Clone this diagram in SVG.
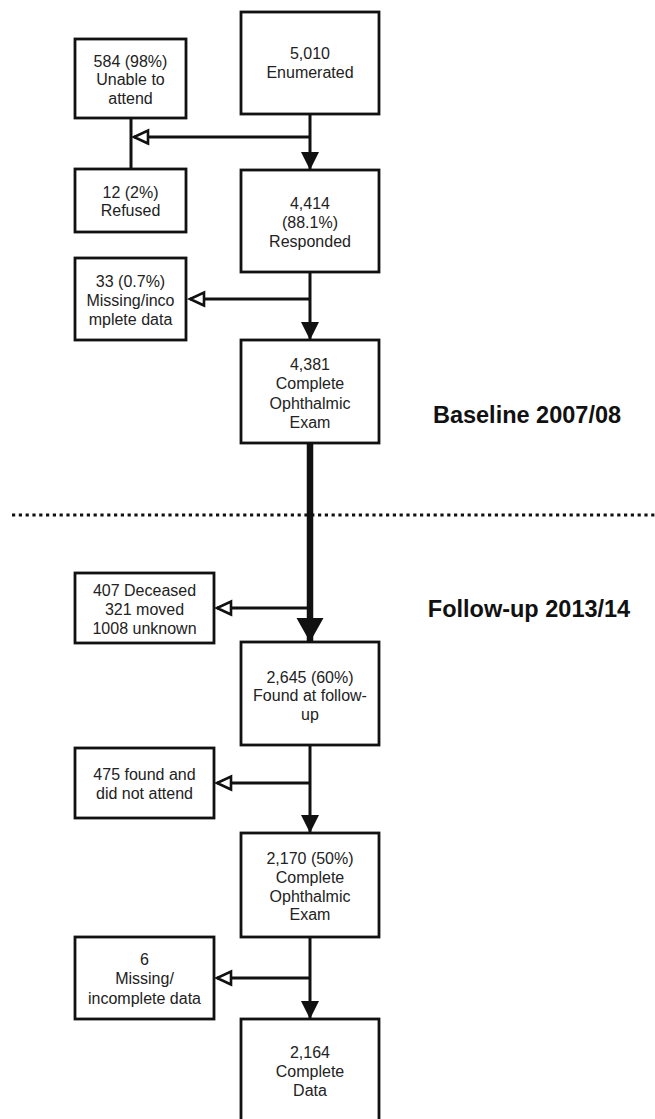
<svg xmlns="http://www.w3.org/2000/svg" width="655" height="1119" viewBox="0 0 655 1119">
<style>
.box{fill:#fff;stroke:#111;stroke-width:2.8}
.t{font-family:"Liberation Sans",Arial,Helvetica,sans-serif;font-size:16px;fill:#222;text-anchor:middle}
.lbl{font-family:"Liberation Sans",Arial,Helvetica,sans-serif;font-size:23.5px;font-weight:bold;fill:#111;text-anchor:middle}
.ln{fill:none;stroke:#111;stroke-width:3}
.thick{fill:none;stroke:#111;stroke-width:6.5}
</style>
<defs>
<marker id="fill" markerUnits="userSpaceOnUse" markerWidth="20" markerHeight="20" refX="18" refY="9" orient="auto" overflow="visible">
<path d="M0,0 L18,9 L0,18 z" fill="#111"/>
</marker>
<marker id="big" markerUnits="userSpaceOnUse" markerWidth="26" markerHeight="28" refX="24" refY="13.5" orient="auto" overflow="visible">
<path d="M0,0 L24,13.5 L0,27 z" fill="#111"/>
</marker>
<marker id="hollow" markerUnits="userSpaceOnUse" markerWidth="18" markerHeight="16" refX="14" refY="6.5" orient="auto" overflow="visible">
<path d="M0,0 L14,6.5 L0,13 z" fill="#fff" stroke="#111" stroke-width="2.6"/>
</marker>
</defs>
<rect width="655" height="1119" fill="#fff"/>

<g id="connectors">
<line class="ln" x1="131" y1="118" x2="131" y2="169"/>
<line class="ln" x1="310" y1="114" x2="310" y2="170" marker-end="url(#fill)"/>
<line class="ln" x1="310" y1="137" x2="134" y2="137" marker-end="url(#hollow)"/>
<line class="ln" x1="310" y1="272" x2="310" y2="340" marker-end="url(#fill)"/>
<line class="ln" x1="310" y1="299" x2="190" y2="299" marker-end="url(#hollow)"/>
<line class="thick" x1="310" y1="443" x2="310" y2="642" marker-end="url(#big)"/>
<line class="ln" x1="310" y1="608" x2="217" y2="608" marker-end="url(#hollow)"/>
<line class="ln" x1="310" y1="745" x2="310" y2="833" marker-end="url(#fill)"/>
<line class="ln" x1="310" y1="783" x2="217" y2="783" marker-end="url(#hollow)"/>
<line class="ln" x1="310" y1="937" x2="310" y2="1019" marker-end="url(#fill)"/>
<line class="ln" x1="310" y1="978" x2="217" y2="978" marker-end="url(#hollow)"/>
</g>

<g id="divider">
<line x1="12" y1="515" x2="655" y2="515" stroke="#111" stroke-width="3.2" stroke-dasharray="3.2 3.6"/>
</g>

<g id="n-enumerated">
<rect class="box" x="241" y="12" width="138" height="102"/>
<text class="t" x="310" y="59">5,010</text>
<text class="t" x="310" y="78">Enumerated</text>
</g>
<g id="n-unable">
<rect class="box" x="75" y="39" width="111" height="79"/>
<text class="t" x="130.5" y="67">584 (98%)</text>
<text class="t" x="130.5" y="85">Unable to</text>
<text class="t" x="130.5" y="104">attend</text>
</g>
<g id="n-refused">
<rect class="box" x="75" y="169" width="111" height="63"/>
<text class="t" x="130.5" y="198">12 (2%)</text>
<text class="t" x="130.5" y="216">Refused</text>
</g>
<g id="n-responded">
<rect class="box" x="241" y="170" width="138" height="102"/>
<text class="t" x="310" y="209">4,414</text>
<text class="t" x="310" y="228">(88.1%)</text>
<text class="t" x="310" y="247">Responded</text>
</g>
<g id="n-missing1">
<rect class="box" x="75" y="258" width="111" height="82"/>
<text class="t" x="130.5" y="287">33 (0.7%)</text>
<text class="t" x="130.5" y="306">Missing/inco</text>
<text class="t" x="130.5" y="325">mplete data</text>
</g>
<g id="n-exam1">
<rect class="box" x="241" y="340" width="138" height="103"/>
<text class="t" x="310" y="370">4,381</text>
<text class="t" x="310" y="389">Complete</text>
<text class="t" x="310" y="409">Ophthalmic</text>
<text class="t" x="310" y="428">Exam</text>
</g>
<g id="label-baseline">
<text class="lbl" x="527" y="423">Baseline 2007/08</text>
</g>
<g id="label-followup">
<text class="lbl" x="529" y="617">Follow-up 2013/14</text>
</g>
<g id="n-lost">
<rect class="box" x="75" y="573" width="139" height="70"/>
<text class="t" x="144.5" y="596">407 Deceased</text>
<text class="t" x="144.5" y="615">321 moved</text>
<text class="t" x="144.5" y="634">1008 unknown</text>
</g>
<g id="n-found">
<rect class="box" x="241" y="642" width="138" height="103"/>
<text class="t" x="310" y="683">2,645 (60%)</text>
<text class="t" x="310" y="701">Found at follow-</text>
<text class="t" x="310" y="720">up</text>
</g>
<g id="n-notattend">
<rect class="box" x="75" y="748" width="139" height="70"/>
<text class="t" x="144.5" y="780">475 found and</text>
<text class="t" x="144.5" y="799">did not attend</text>
</g>
<g id="n-exam2">
<rect class="box" x="241" y="833" width="138" height="104"/>
<text class="t" x="310" y="864">2,170 (50%)</text>
<text class="t" x="310" y="883">Complete</text>
<text class="t" x="310" y="902">Ophthalmic</text>
<text class="t" x="310" y="920">Exam</text>
</g>
<g id="n-missing2">
<rect class="box" x="75" y="937" width="139" height="82"/>
<text class="t" x="144.5" y="965">6</text>
<text class="t" x="144.5" y="984">Missing/</text>
<text class="t" x="144.5" y="1004">incomplete data</text>
</g>
<g id="n-final">
<rect class="box" x="241" y="1019" width="138" height="110"/>
<text class="t" x="310" y="1058">2,164</text>
<text class="t" x="310" y="1077">Complete</text>
<text class="t" x="310" y="1096">Data</text>
</g>
</svg>
